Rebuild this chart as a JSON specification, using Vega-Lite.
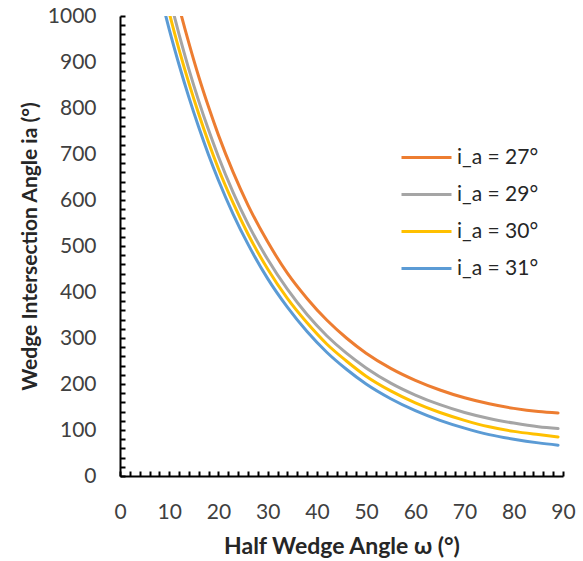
{
  "$schema": "https://vega.github.io/schema/vega-lite/v6.json",
  "width": 443,
  "height": 460,
  "autosize": {"type": "none"},
  "padding": {"left": 120, "top": 16, "right": 20, "bottom": 85},
  "background": "white",
  "config": {"view": {"stroke": null}, "font": "Lato"},
  "data": {"values": [
    {"w": 10, "v": 1108, "s": "i_a = 27°"},
    {"w": 12, "v": 1020, "s": "i_a = 27°"},
    {"w": 14, "v": 941, "s": "i_a = 27°"},
    {"w": 16, "v": 868, "s": "i_a = 27°"},
    {"w": 18, "v": 802, "s": "i_a = 27°"},
    {"w": 20, "v": 741, "s": "i_a = 27°"},
    {"w": 23, "v": 660, "s": "i_a = 27°"},
    {"w": 26, "v": 589, "s": "i_a = 27°"},
    {"w": 30, "v": 509, "s": "i_a = 27°"},
    {"w": 34, "v": 441, "s": "i_a = 27°"},
    {"w": 38, "v": 386, "s": "i_a = 27°"},
    {"w": 42, "v": 339, "s": "i_a = 27°"},
    {"w": 46, "v": 300, "s": "i_a = 27°"},
    {"w": 50, "v": 267, "s": "i_a = 27°"},
    {"w": 55, "v": 234, "s": "i_a = 27°"},
    {"w": 60, "v": 208, "s": "i_a = 27°"},
    {"w": 65, "v": 187, "s": "i_a = 27°"},
    {"w": 70, "v": 170, "s": "i_a = 27°"},
    {"w": 75, "v": 157, "s": "i_a = 27°"},
    {"w": 80, "v": 147, "s": "i_a = 27°"},
    {"w": 85, "v": 140, "s": "i_a = 27°"},
    {"w": 89, "v": 137, "s": "i_a = 27°"},

    {"w": 10, "v": 1042, "s": "i_a = 29°"},
    {"w": 12, "v": 960, "s": "i_a = 29°"},
    {"w": 14, "v": 884, "s": "i_a = 29°"},
    {"w": 16, "v": 815, "s": "i_a = 29°"},
    {"w": 18, "v": 752, "s": "i_a = 29°"},
    {"w": 20, "v": 694, "s": "i_a = 29°"},
    {"w": 23, "v": 616, "s": "i_a = 29°"},
    {"w": 26, "v": 548, "s": "i_a = 29°"},
    {"w": 30, "v": 471, "s": "i_a = 29°"},
    {"w": 34, "v": 406, "s": "i_a = 29°"},
    {"w": 38, "v": 351, "s": "i_a = 29°"},
    {"w": 42, "v": 305, "s": "i_a = 29°"},
    {"w": 46, "v": 267, "s": "i_a = 29°"},
    {"w": 50, "v": 235, "s": "i_a = 29°"},
    {"w": 55, "v": 202, "s": "i_a = 29°"},
    {"w": 60, "v": 176, "s": "i_a = 29°"},
    {"w": 65, "v": 155, "s": "i_a = 29°"},
    {"w": 70, "v": 138, "s": "i_a = 29°"},
    {"w": 75, "v": 125, "s": "i_a = 29°"},
    {"w": 80, "v": 115, "s": "i_a = 29°"},
    {"w": 85, "v": 107, "s": "i_a = 29°"},
    {"w": 89, "v": 103, "s": "i_a = 29°"},

    {"w": 8, "v": 1094, "s": "i_a = 30°"},
    {"w": 10, "v": 1007, "s": "i_a = 30°"},
    {"w": 12, "v": 927, "s": "i_a = 30°"},
    {"w": 14, "v": 854, "s": "i_a = 30°"},
    {"w": 16, "v": 787, "s": "i_a = 30°"},
    {"w": 18, "v": 725, "s": "i_a = 30°"},
    {"w": 20, "v": 668, "s": "i_a = 30°"},
    {"w": 23, "v": 593, "s": "i_a = 30°"},
    {"w": 26, "v": 526, "s": "i_a = 30°"},
    {"w": 30, "v": 450, "s": "i_a = 30°"},
    {"w": 34, "v": 386, "s": "i_a = 30°"},
    {"w": 38, "v": 333, "s": "i_a = 30°"},
    {"w": 42, "v": 287, "s": "i_a = 30°"},
    {"w": 46, "v": 250, "s": "i_a = 30°"},
    {"w": 50, "v": 217, "s": "i_a = 30°"},
    {"w": 55, "v": 185, "s": "i_a = 30°"},
    {"w": 60, "v": 159, "s": "i_a = 30°"},
    {"w": 65, "v": 138, "s": "i_a = 30°"},
    {"w": 70, "v": 121, "s": "i_a = 30°"},
    {"w": 75, "v": 107, "s": "i_a = 30°"},
    {"w": 80, "v": 97, "s": "i_a = 30°"},
    {"w": 85, "v": 90, "s": "i_a = 30°"},
    {"w": 89, "v": 85, "s": "i_a = 30°"},

    {"w": 8, "v": 1056, "s": "i_a = 31°"},
    {"w": 10, "v": 971, "s": "i_a = 31°"},
    {"w": 12, "v": 894, "s": "i_a = 31°"},
    {"w": 14, "v": 823, "s": "i_a = 31°"},
    {"w": 16, "v": 758, "s": "i_a = 31°"},
    {"w": 18, "v": 698, "s": "i_a = 31°"},
    {"w": 20, "v": 643, "s": "i_a = 31°"},
    {"w": 23, "v": 569, "s": "i_a = 31°"},
    {"w": 26, "v": 504, "s": "i_a = 31°"},
    {"w": 30, "v": 429, "s": "i_a = 31°"},
    {"w": 34, "v": 367, "s": "i_a = 31°"},
    {"w": 38, "v": 314, "s": "i_a = 31°"},
    {"w": 42, "v": 269, "s": "i_a = 31°"},
    {"w": 46, "v": 232, "s": "i_a = 31°"},
    {"w": 50, "v": 200, "s": "i_a = 31°"},
    {"w": 55, "v": 168, "s": "i_a = 31°"},
    {"w": 60, "v": 142, "s": "i_a = 31°"},
    {"w": 65, "v": 121, "s": "i_a = 31°"},
    {"w": 70, "v": 104, "s": "i_a = 31°"},
    {"w": 75, "v": 90, "s": "i_a = 31°"},
    {"w": 80, "v": 80, "s": "i_a = 31°"},
    {"w": 85, "v": 72, "s": "i_a = 31°"},
    {"w": 89, "v": 67, "s": "i_a = 31°"}
  ]},
  "mark": {"type": "line", "interpolate": "monotone", "strokeWidth": 3, "clip": true, "strokeCap": "round"},
  "encoding": {
    "x": {
      "field": "w", "type": "quantitative",
      "scale": {"domain": [0, 90], "nice": false, "zero": false},
      "axis": {
        "title": "Half Wedge Angle ω (°)",
        "values": [0,2,4,6,8,10,12,14,16,18,20,22,24,26,28,30,32,34,36,38,40,42,44,46,48,50,52,54,56,58,60,62,64,66,68,70,72,74,76,78,80,82,84,86,88,90],
        "labelExpr": "datum.value % 10 === 0 ? datum.label : ''",
        "grid": false,
        "domainColor": "#000000", "domainWidth": 2,
        "tickColor": "#000000", "tickWidth": 2,
        "tickSize": -5,
        "labelPadding": 30,
        "labelFont": "Lato", "labelFontSize": 21, "labelColor": "#404040",
        "labelFlush": false, "labelOverlap": false,
        "titleFont": "Lato", "titleFontSize": 23, "titleFontWeight": "bold", "titleColor": "#262626",
        "titlePadding": 13
      }
    },
    "y": {
      "field": "v", "type": "quantitative",
      "scale": {"domain": [0, 1000], "nice": false},
      "axis": {
        "title": "Wedge Intersection Angle ia (°)",
        "format": "d",
        "values": [0,20,40,60,80,100,120,140,160,180,200,220,240,260,280,300,320,340,360,380,400,420,440,460,480,500,520,540,560,580,600,620,640,660,680,700,720,740,760,780,800,820,840,860,880,900,920,940,960,980,1000],
        "labelExpr": "datum.value % 100 === 0 ? datum.label : ''",
        "grid": false,
        "domainColor": "#000000", "domainWidth": 2,
        "tickColor": "#000000", "tickWidth": 2,
        "tickSize": -5,
        "labelPadding": 29,
        "labelFont": "Lato", "labelFontSize": 21, "labelColor": "#404040",
        "labelFlush": false, "labelOverlap": false,
        "titleFont": "Lato", "titleFontSize": 21, "titleFontWeight": "bold", "titleColor": "#262626",
        "titlePadding": 7
      }
    },
    "color": {
      "field": "s", "type": "nominal",
      "scale": {"domain": ["i_a = 27°", "i_a = 29°", "i_a = 30°", "i_a = 31°"], "range": ["#ED7D31", "#A5A5A5", "#FFC000", "#5B9BD5"]},
      "legend": {
        "title": null,
        "orient": "none",
        "legendX": 280,
        "legendY": 115,
        "symbolType": "stroke",
        "symbolSize": 2500,
        "symbolStrokeWidth": 3,
        "labelFont": "Lato", "labelFontSize": 21, "labelColor": "#262626",
        "labelOffset": 4,
        "rowPadding": -9,
        "padding": 0
      }
    }
  }
}
